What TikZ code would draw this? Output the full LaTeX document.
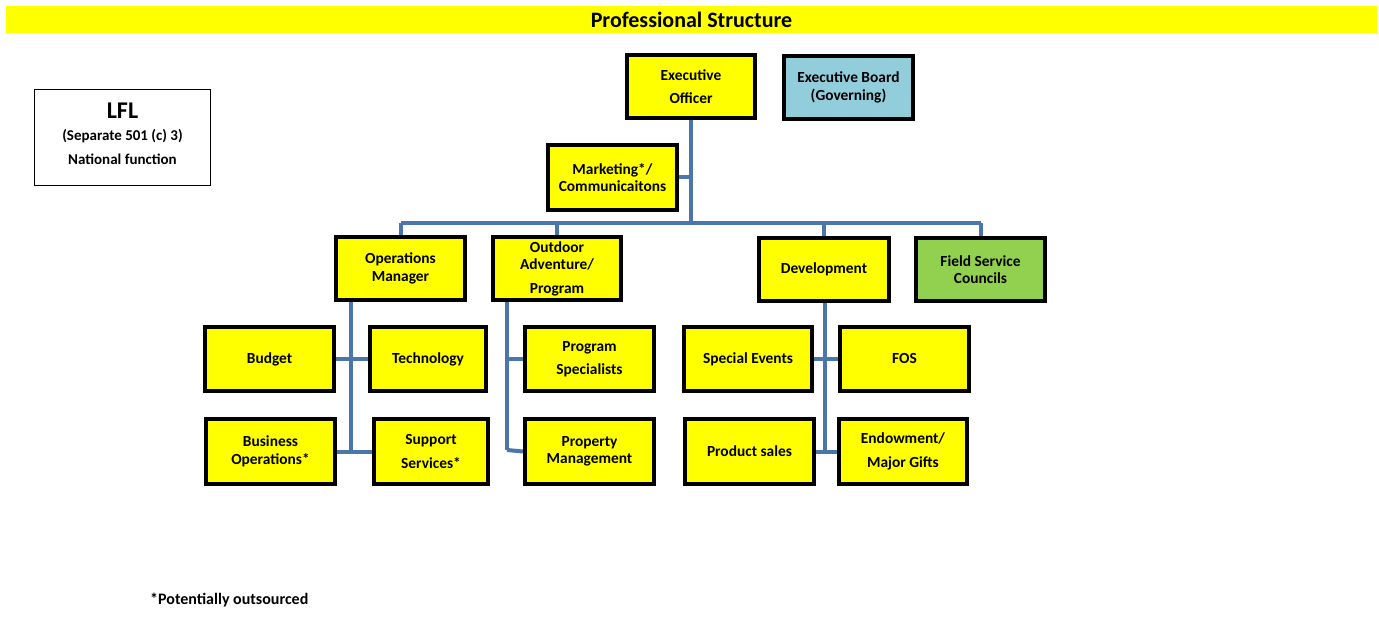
\documentclass[tikz,border=0pt]{standalone}
\usepackage{fontspec}
\setmainfont{Carlito}
\usetikzlibrary{backgrounds}
\definecolor{bxyellow}{RGB}{255,255,0}
\definecolor{bxblue}{RGB}{146,205,220}
\definecolor{bxgreen}{RGB}{146,208,80}
\definecolor{conn}{RGB}{74,118,170}
\newcommand{\bx}[7]{\node[box,#6,minimum width={#4-#2-4},minimum height={#5-#3-4}] (#1) at ({(#2+#4)/2},{(#3+#5)/2}) {#7};}
\begin{document}
\begin{tikzpicture}[x=1pt,y=-1pt,
  box/.style={draw=black,line width=4pt,fill=bxyellow,align=center,inner sep=0pt,font=\fontsize{15.4}{17.5}\selectfont\bfseries},
  link/.style={draw=conn,line width=4pt},
  txt/.style={inner sep=0pt,font=\fontsize{15}{17}\selectfont\bfseries}]
\useasboundingbox (0,0) rectangle (1379,620);
\begin{scope}[on background layer]
\fill[white] (0,0) rectangle (1379,620);
\end{scope}
% title
\node[fill=bxyellow,minimum width=1371,minimum height=27,inner sep=0pt,font=\fontsize{22}{24}\selectfont\bfseries] (title) at (691.5,19.5) {Professional Structure};
% LFL
\node[draw=black,line width=1pt,minimum width=176,minimum height=96,inner sep=0pt] (lfl) at (122.5,137.5) {};
\node[txt,font=\fontsize{24}{26}\selectfont\bfseries] (lflt) at (122.5,111) {LFL};
\node[txt] (lfls) at (122.5,136) {(Separate 501 (c) 3)};
\node[txt] (lfln) at (122.5,159) {National function};
% top
\bx{eo}{625}{53}{757}{120}{}{Executive\\[6pt]Officer}
\bx{eb}{782}{54}{915}{121}{fill=bxblue}{Executive Board\\(Governing)}
\bx{mkt}{546}{143}{679}{212}{}{Marketing*/\\Communicaitons}
% second row
\bx{ops}{334}{235}{467}{302}{}{Operations\\Manager}
\bx{oa}{491}{235}{623}{302}{}{Outdoor\\Adventure/\\[6pt]Program}
\bx{dev}{757}{236}{891}{303}{}{Development}
\bx{fsc}{914}{236}{1047}{303}{fill=bxgreen}{Field Service\\Councils}
% third rows
\bx{bud}{203}{325}{336}{393}{}{Budget}
\bx{tech}{368}{325}{488}{393}{}{Technology}
\bx{bus}{204}{417}{337}{486}{}{Business\\Operations*}
\bx{sup}{372}{417}{490}{486}{}{Support\\[6pt]Services*}
\bx{ps}{523}{325}{656}{393}{}{Program\\[6pt]Specialists}
\bx{pm}{523}{417}{656}{486}{}{Property\\Management}
\bx{se}{682}{325}{814}{393}{}{Special Events}
\bx{fos}{838}{325}{971}{393}{}{FOS}
\bx{prod}{683}{417}{816}{486}{}{Product sales}
\bx{end}{837}{417}{969}{486}{}{Endowment/\\[6pt]Major Gifts}
% footnote
\node[anchor=west,inner sep=0pt,font=\fontsize{16}{18}\selectfont\bfseries] (note) at (150,600) {*Potentially outsourced};
% connectors
\coordinate (busc) at (691,223);
\coordinate (opsv) at (351,450);
\coordinate (oav) at (507,450);
\coordinate (devv) at (825,450);
\begin{scope}[on background layer]
\draw[link] (eo.south) -- (busc);
\draw[link] (mkt.east) -- (mkt.east -| eo.south);
\draw[link] (ops.north |- busc) -- (fsc.north |- busc);
\draw[link] (ops.north) -- (ops.north |- busc);
\draw[link] (oa.north) -- (oa.north |- busc);
\draw[link] (dev.north) -- (dev.north |- busc);
\draw[link] (fsc.north) -- (fsc.north |- busc);
\draw[link] (opsv |- ops.south) -- (opsv);
\draw[link] (bud.east) -- (tech.west);
\draw[link] (bus.east) -- (sup.west);
\draw[link] (oav |- oa.south) -- (oav);
\draw[link] (oav |- ps.west) -- (ps.west);
\draw[link] (oav) -- (pm.west);
\draw[link] (devv |- dev.south) -- (devv);
\draw[link] (se.east) -- (fos.west);
\draw[link] (prod.east) -- (end.west);
\end{scope}
\end{tikzpicture}
\end{document}
